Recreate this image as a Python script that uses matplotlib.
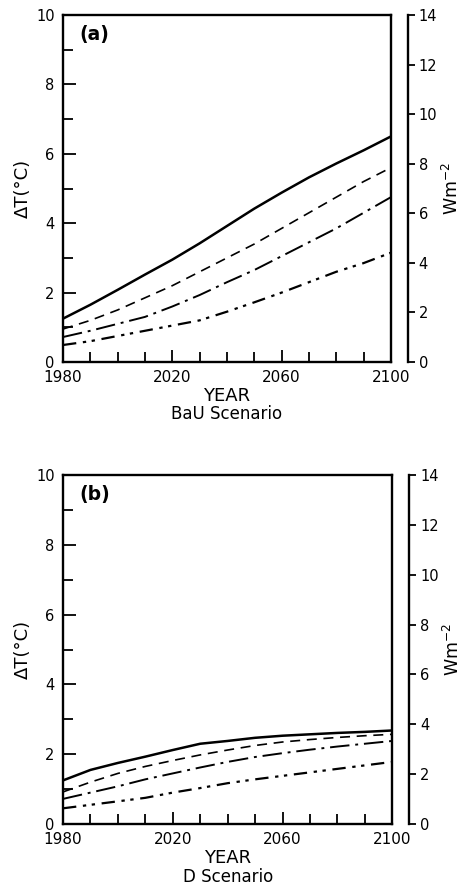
"""
Global-mean warming (ΔT) and radiative forcing, 1980-2100,
for the BaU and D scenarios. Two stacked panels, each with an extra
detached axis on the right in W m^-2.
"""
import matplotlib

matplotlib.use("Agg")
import matplotlib.pyplot as plt  # noqa: E402
from matplotlib.ticker import MultipleLocator  # noqa: E402

plt.rcParams["font.family"] = ["DejaVu Sans"]
plt.rcParams["axes.unicode_minus"] = False

years = [1980, 1990, 2000, 2010, 2020, 2030, 2040, 2050, 2060, 2070, 2080, 2090, 2100]

# panel (a): BaU scenario
bau_1 = [1.25, 1.65, 2.08, 2.52, 2.95, 3.42, 3.92, 4.42, 4.88, 5.32, 5.72, 6.1, 6.5]
bau_2 = [0.95, 1.2, 1.5, 1.85, 2.2, 2.6, 3.0, 3.4, 3.85, 4.3, 4.75, 5.2, 5.6]
bau_3 = [0.72, 0.9, 1.1, 1.3, 1.6, 1.93, 2.3, 2.65, 3.05, 3.45, 3.85, 4.3, 4.75]
bau_4 = [0.49, 0.6, 0.75, 0.9, 1.05, 1.2, 1.45, 1.72, 2.0, 2.3, 2.6, 2.85, 3.15]

# panel (b): D scenario
d_1 = [1.25, 1.55, 1.75, 1.93, 2.12, 2.3, 2.38, 2.47, 2.53, 2.57, 2.61, 2.64, 2.68]
d_2 = [0.92, 1.2, 1.45, 1.65, 1.82, 1.98, 2.12, 2.25, 2.35, 2.42, 2.48, 2.53, 2.57]
d_3 = [0.72, 0.9, 1.08, 1.28, 1.45, 1.62, 1.78, 1.92, 2.03, 2.13, 2.22, 2.3, 2.38]
d_4 = [0.45, 0.55, 0.65, 0.75, 0.9, 1.03, 1.17, 1.28, 1.38, 1.48, 1.58, 1.68, 1.78]

year_labels = [1980, 2020, 2060, 2100]

STYLES = [
    dict(ls="-", lw=1.8),
    dict(ls=(0, (6, 4)), lw=1.2),
    dict(ls=(0, (10, 3, 1.5, 3)), lw=1.4),
    dict(ls=(0, (6, 3, 1.5, 2.5, 1.5, 3)), lw=1.6),
]


def panel(fig, rect, series, tag, scenario):
    ax = fig.add_axes(rect)
    for s, st in zip(series, STYLES):
        ax.plot(years, s, color="black", **st)
    ax.set_xlim(1980, 2100)
    ax.set_ylim(0, 10)
    ax.set_xticks(year_labels)
    ax.xaxis.set_minor_locator(MultipleLocator(10))
    ax.yaxis.set_major_locator(MultipleLocator(2))
    ax.yaxis.set_minor_locator(MultipleLocator(1))
    ax.tick_params(which="both", direction="in", top=False, right=True,
                   width=1.3, pad=6)
    ax.tick_params(axis="x", labelsize=11)
    ax.tick_params(axis="y", labelsize=10.5)
    ax.tick_params(which="major", length=9)
    ax.tick_params(which="minor", length=7)
    for sp in ax.spines.values():
        sp.set_linewidth(1.7)
    ax.set_ylabel("ΔT(°C)", fontsize=13, labelpad=3)
    ax.set_xlabel("YEAR", fontsize=13, labelpad=1)
    ax.text(0.5, -0.125, scenario, transform=ax.transAxes, ha="center",
            va="top", fontsize=12)
    ax.text(0.05, 0.97, tag, transform=ax.transAxes, ha="left", va="top",
            fontsize=13.5, fontweight="bold")

    # detached forcing axis
    ax2 = ax.twinx()
    ax2.set_ylim(0, 14)
    ax2.yaxis.set_major_locator(MultipleLocator(2))
    for k in ("top", "bottom", "left"):
        ax2.spines[k].set_visible(False)
    ax2.spines["right"].set_position(("outward", 12))
    ax2.spines["right"].set_linewidth(1.7)
    ax2.tick_params(direction="out", length=5, width=1.3, labelsize=10.5, pad=3)
    ax2.set_ylabel("Wm$^{-2}$", fontsize=12.5, labelpad=3)
    return ax


fig = plt.figure(figsize=(4.67, 8.89), dpi=100)
panel(fig, [0.135, 0.5928, 0.702, 0.3903], [bau_1, bau_2, bau_3, bau_4],
      "(a)", "BaU Scenario")
panel(fig, [0.135, 0.0731, 0.705, 0.3926], [d_1, d_2, d_3, d_4],
      "(b)", "D Scenario")
fig.savefig("out.png", dpi=100)
